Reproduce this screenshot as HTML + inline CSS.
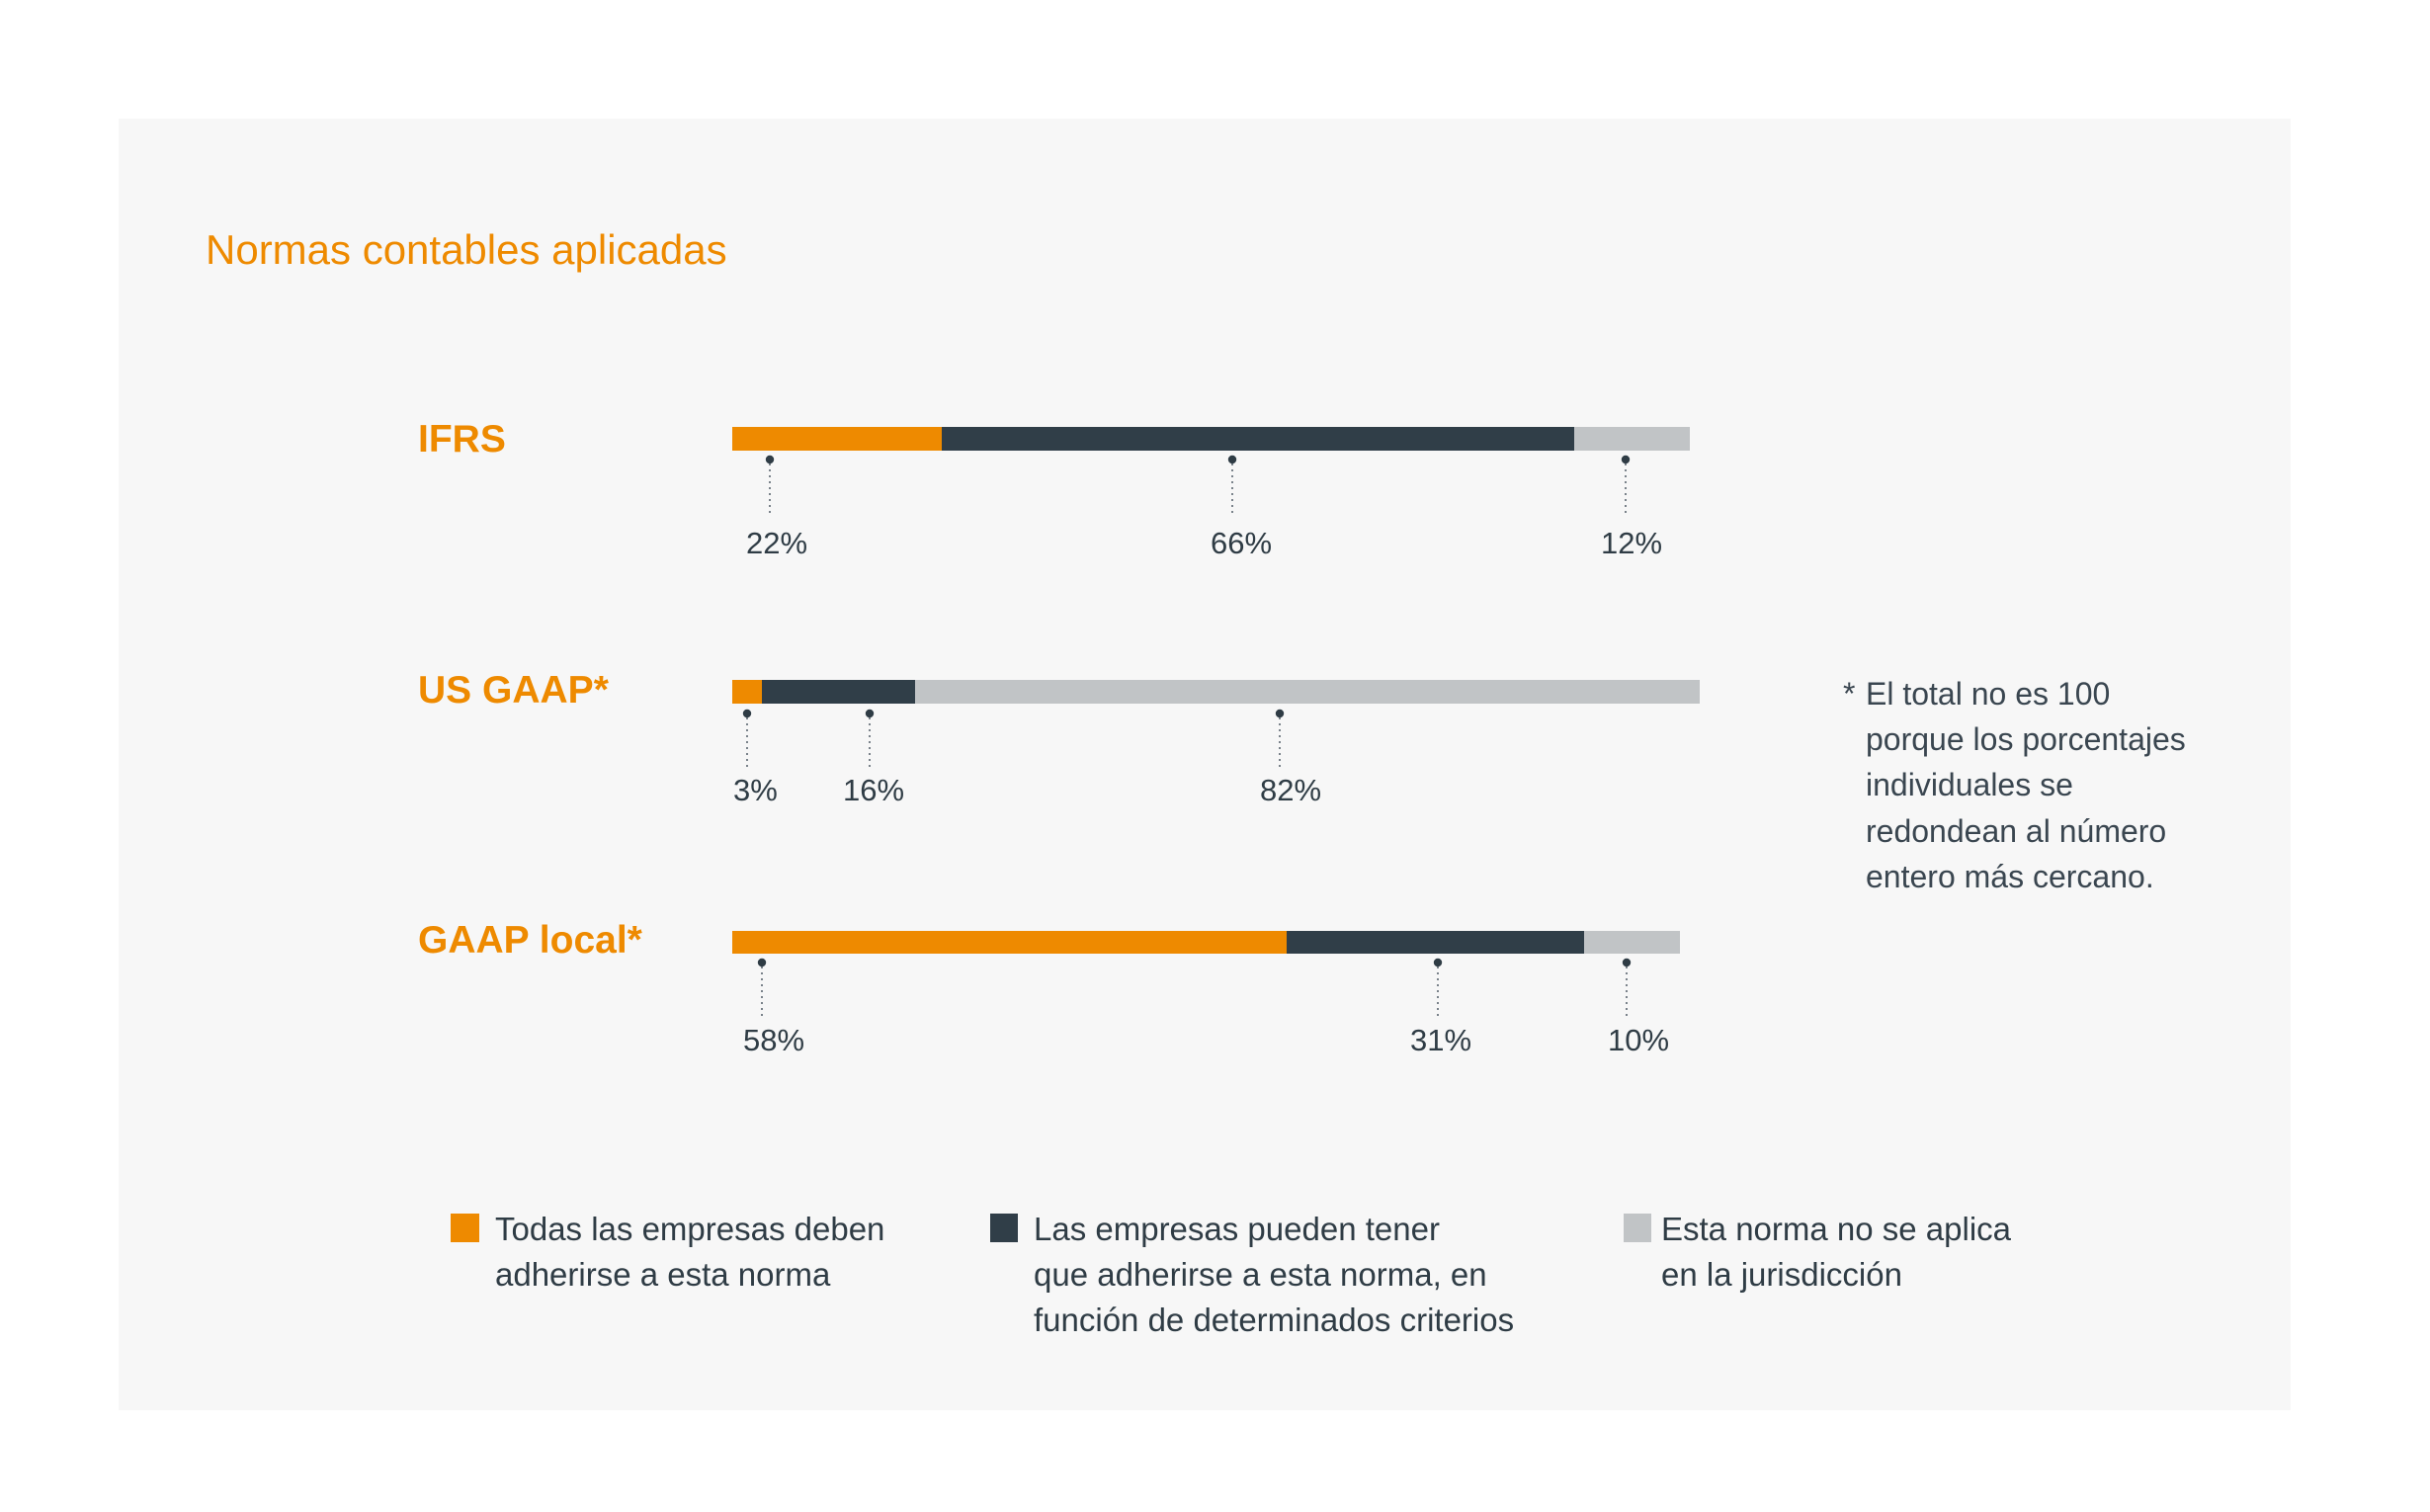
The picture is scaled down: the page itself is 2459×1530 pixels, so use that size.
<!DOCTYPE html>
<html>
<head>
<meta charset="utf-8">
<style>
  html, body { margin: 0; padding: 0; background: #ffffff; }
  body { width: 2459px; height: 1530px; overflow: hidden; }
  svg { display: block; }
  .t { font-family: "Liberation Sans", Arial, sans-serif; }
</style>
</head>
<body>
<svg width="2459" height="1530" viewBox="0 0 2459 1530" xmlns="http://www.w3.org/2000/svg">
  <rect x="0" y="0" width="2459" height="1530" fill="#ffffff"/>
  <rect x="120" y="120" width="2198" height="1307" fill="#f7f7f7"/>

  <!-- Title -->
  <text class="t" x="208" y="267" font-size="42" fill="#ee8a00">Normas contables aplicadas</text>

  <!-- Row labels -->
  <text class="t" x="423" y="457" font-size="39" font-weight="bold" fill="#ee8a00">IFRS</text>
  <text class="t" x="423" y="711" font-size="39" font-weight="bold" fill="#ee8a00">US GAAP*</text>
  <text class="t" x="423" y="964" font-size="39" font-weight="bold" fill="#ee8a00">GAAP local*</text>

  <!-- IFRS bar -->
  <rect x="741" y="432" width="212" height="24" fill="#ee8a00"/>
  <rect x="953" y="432" width="640" height="24" fill="#303e48"/>
  <rect x="1593" y="432" width="117" height="24" fill="#c1c4c6"/>

  <!-- US GAAP bar -->
  <rect x="741" y="688" width="30" height="24" fill="#ee8a00"/>
  <rect x="771" y="688" width="155" height="24" fill="#303e48"/>
  <rect x="926" y="688" width="794" height="24" fill="#c1c4c6"/>

  <!-- GAAP local bar -->
  <rect x="741" y="942" width="561" height="23" fill="#ee8a00"/>
  <rect x="1302" y="942" width="301" height="23" fill="#303e48"/>
  <rect x="1603" y="942" width="97" height="23" fill="#c1c4c6"/>

  <!-- Dotted leader lines -->
  <g stroke="#5b6670" stroke-width="1.6" stroke-dasharray="2 4" fill="none">
    <line x1="779" y1="469" x2="779" y2="520"/>
    <line x1="1247" y1="469" x2="1247" y2="520"/>
    <line x1="1645" y1="469" x2="1645" y2="520"/>

    <line x1="756" y1="726" x2="756" y2="777"/>
    <line x1="880" y1="726" x2="880" y2="777"/>
    <line x1="1295" y1="726" x2="1295" y2="777"/>

    <line x1="771" y1="978" x2="771" y2="1029"/>
    <line x1="1455" y1="978" x2="1455" y2="1029"/>
    <line x1="1646" y1="978" x2="1646" y2="1029"/>
  </g>

  <!-- Dots -->
  <g fill="#2f3c45">
    <circle cx="779" cy="465" r="4.2"/>
    <circle cx="1247" cy="465" r="4.2"/>
    <circle cx="1645" cy="465" r="4.2"/>

    <circle cx="756" cy="722" r="4.2"/>
    <circle cx="880" cy="722" r="4.2"/>
    <circle cx="1295" cy="722" r="4.2"/>

    <circle cx="771" cy="974" r="4.2"/>
    <circle cx="1455" cy="974" r="4.2"/>
    <circle cx="1646" cy="974" r="4.2"/>
  </g>

  <!-- Percent labels -->
  <g class="t" font-size="31" fill="#2f3c45">
    <text x="755" y="560">22%</text>
    <text x="1225" y="560">66%</text>
    <text x="1620" y="560">12%</text>

    <text x="742" y="810">3%</text>
    <text x="853" y="810">16%</text>
    <text x="1275" y="810">82%</text>

    <text x="752" y="1063">58%</text>
    <text x="1427" y="1063">31%</text>
    <text x="1627" y="1063">10%</text>
  </g>

  <!-- Footnote -->
  <g class="t" font-size="32" fill="#3a4650">
    <text x="1865" y="713">*</text>
    <text x="1888" y="713">El total no es 100</text>
    <text x="1888" y="759">porque los porcentajes</text>
    <text x="1888" y="805">individuales se</text>
    <text x="1888" y="852">redondean al número</text>
    <text x="1888" y="898">entero más cercano.</text>
  </g>

  <!-- Legend -->
  <rect x="456" y="1228" width="29" height="29" fill="#ee8a00"/>
  <rect x="1002" y="1228" width="28" height="29" fill="#303e48"/>
  <rect x="1643" y="1228" width="28" height="29" fill="#c1c4c6"/>
  <g class="t" font-size="33" fill="#2f3c45">
    <text x="501" y="1255">Todas las empresas deben</text>
    <text x="501" y="1301">adherirse a esta norma</text>

    <text x="1046" y="1255">Las empresas pueden tener</text>
    <text x="1046" y="1301">que adherirse a esta norma, en</text>
    <text x="1046" y="1347">función de determinados criterios</text>

    <text x="1681" y="1255">Esta norma no se aplica</text>
    <text x="1681" y="1301">en la jurisdicción</text>
  </g>
</svg>
</body>
</html>
